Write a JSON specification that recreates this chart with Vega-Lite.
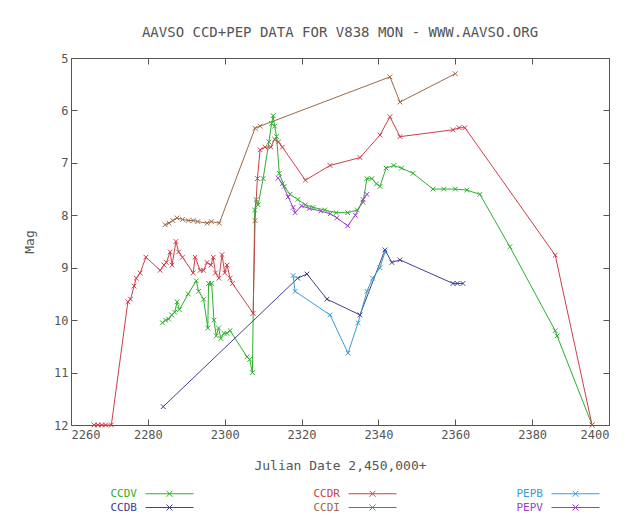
{
  "$schema": "https://vega.github.io/schema/vega-lite/v6.json",
  "width": 538,
  "height": 367,
  "autosize": {"type": "none"},
  "padding": {"left": 71, "top": 58, "right": 27, "bottom": 97},
  "background": "white",
  "title": {"text": "AAVSO CCD+PEP DATA FOR V838 MON - WWW.AAVSO.ORG", "font": "DejaVu Sans Mono", "fontSize": 14, "fontWeight": "normal", "color": "#555555", "offset": 12, "anchor": "middle"},
  "datasets": {
    "d": [
      {"s": "CCDV", "jd": 2283.8, "mag": 10.05}, {"s": "CCDV", "jd": 2284.6, "mag": 10.0}, {"s": "CCDV", "jd": 2285.4, "mag": 9.98}, {"s": "CCDV", "jd": 2286.2, "mag": 9.9}, {"s": "CCDV", "jd": 2287.0, "mag": 9.85}, {"s": "CCDV", "jd": 2287.6, "mag": 9.65}, {"s": "CCDV", "jd": 2288.2, "mag": 9.8}, {"s": "CCDV", "jd": 2290.5, "mag": 9.5}, {"s": "CCDV", "jd": 2292.6, "mag": 9.25}, {"s": "CCDV", "jd": 2293.2, "mag": 9.45}, {"s": "CCDV", "jd": 2294.5, "mag": 9.6}, {"s": "CCDV", "jd": 2295.6, "mag": 10.15}, {"s": "CCDV", "jd": 2295.8, "mag": 9.3}, {"s": "CCDV", "jd": 2296.6, "mag": 9.3}, {"s": "CCDV", "jd": 2297.2, "mag": 10.0}, {"s": "CCDV", "jd": 2297.8, "mag": 10.3}, {"s": "CCDV", "jd": 2298.4, "mag": 10.15}, {"s": "CCDV", "jd": 2299.0, "mag": 10.35}, {"s": "CCDV", "jd": 2299.8, "mag": 10.25}, {"s": "CCDV", "jd": 2300.6, "mag": 10.25}, {"s": "CCDV", "jd": 2301.4, "mag": 10.2}, {"s": "CCDV", "jd": 2305.8, "mag": 10.7}, {"s": "CCDV", "jd": 2306.5, "mag": 10.75}, {"s": "CCDV", "jd": 2307.2, "mag": 11.0}, {"s": "CCDV", "jd": 2307.8, "mag": 7.9}, {"s": "CCDV", "jd": 2308.2, "mag": 7.7}, {"s": "CCDV", "jd": 2308.7, "mag": 7.8}, {"s": "CCDV", "jd": 2310.0, "mag": 7.3}, {"s": "CCDV", "jd": 2311.5, "mag": 6.6}, {"s": "CCDV", "jd": 2312.2, "mag": 6.25}, {"s": "CCDV", "jd": 2312.6, "mag": 6.1}, {"s": "CCDV", "jd": 2313.0, "mag": 6.3}, {"s": "CCDV", "jd": 2313.5, "mag": 6.5}, {"s": "CCDV", "jd": 2314.2, "mag": 7.2}, {"s": "CCDV", "jd": 2315.5, "mag": 7.45}, {"s": "CCDV", "jd": 2317.0, "mag": 7.6}, {"s": "CCDV", "jd": 2319.0, "mag": 7.7}, {"s": "CCDV", "jd": 2321.0, "mag": 7.8}, {"s": "CCDV", "jd": 2323.0, "mag": 7.85}, {"s": "CCDV", "jd": 2326.0, "mag": 7.9}, {"s": "CCDV", "jd": 2329.0, "mag": 7.95}, {"s": "CCDV", "jd": 2332.0, "mag": 7.95}, {"s": "CCDV", "jd": 2334.5, "mag": 7.9}, {"s": "CCDV", "jd": 2336.0, "mag": 7.75}, {"s": "CCDV", "jd": 2337.0, "mag": 7.3}, {"s": "CCDV", "jd": 2338.3, "mag": 7.3}, {"s": "CCDV", "jd": 2339.5, "mag": 7.4}, {"s": "CCDV", "jd": 2340.4, "mag": 7.45}, {"s": "CCDV", "jd": 2342.0, "mag": 7.1}, {"s": "CCDV", "jd": 2344.0, "mag": 7.05}, {"s": "CCDV", "jd": 2346.0, "mag": 7.1}, {"s": "CCDV", "jd": 2349.0, "mag": 7.2}, {"s": "CCDV", "jd": 2354.2, "mag": 7.5}, {"s": "CCDV", "jd": 2357.0, "mag": 7.5}, {"s": "CCDV", "jd": 2360.0, "mag": 7.5}, {"s": "CCDV", "jd": 2363.0, "mag": 7.52}, {"s": "CCDV", "jd": 2366.4, "mag": 7.6}, {"s": "CCDV", "jd": 2374.2, "mag": 8.6}, {"s": "CCDV", "jd": 2386.0, "mag": 10.2}, {"s": "CCDV", "jd": 2386.5, "mag": 10.3}, {"s": "CCDV", "jd": 2395.6, "mag": 12.0},

      {"s": "CCDR", "jd": 2266.0, "mag": 12.0}, {"s": "CCDR", "jd": 2267.0, "mag": 12.0}, {"s": "CCDR", "jd": 2268.0, "mag": 12.0}, {"s": "CCDR", "jd": 2269.0, "mag": 12.0}, {"s": "CCDR", "jd": 2270.5, "mag": 12.0}, {"s": "CCDR", "jd": 2274.8, "mag": 9.65}, {"s": "CCDR", "jd": 2275.5, "mag": 9.6}, {"s": "CCDR", "jd": 2276.4, "mag": 9.35}, {"s": "CCDR", "jd": 2277.0, "mag": 9.2}, {"s": "CCDR", "jd": 2278.0, "mag": 9.1}, {"s": "CCDR", "jd": 2279.5, "mag": 8.8}, {"s": "CCDR", "jd": 2283.2, "mag": 9.05}, {"s": "CCDR", "jd": 2284.2, "mag": 8.95}, {"s": "CCDR", "jd": 2284.8, "mag": 8.9}, {"s": "CCDR", "jd": 2285.8, "mag": 8.7}, {"s": "CCDR", "jd": 2286.3, "mag": 8.95}, {"s": "CCDR", "jd": 2287.3, "mag": 8.5}, {"s": "CCDR", "jd": 2288.0, "mag": 8.7}, {"s": "CCDR", "jd": 2289.0, "mag": 8.8}, {"s": "CCDR", "jd": 2291.8, "mag": 9.1}, {"s": "CCDR", "jd": 2292.3, "mag": 8.8}, {"s": "CCDR", "jd": 2293.6, "mag": 9.05}, {"s": "CCDR", "jd": 2294.5, "mag": 9.05}, {"s": "CCDR", "jd": 2295.4, "mag": 8.9}, {"s": "CCDR", "jd": 2296.4, "mag": 8.95}, {"s": "CCDR", "jd": 2297.0, "mag": 8.8}, {"s": "CCDR", "jd": 2297.6, "mag": 9.1}, {"s": "CCDR", "jd": 2298.5, "mag": 9.2}, {"s": "CCDR", "jd": 2299.3, "mag": 8.75}, {"s": "CCDR", "jd": 2300.0, "mag": 9.1}, {"s": "CCDR", "jd": 2300.6, "mag": 8.95}, {"s": "CCDR", "jd": 2301.4, "mag": 9.2}, {"s": "CCDR", "jd": 2302.0, "mag": 9.3}, {"s": "CCDR", "jd": 2307.4, "mag": 9.87}, {"s": "CCDR", "jd": 2307.9, "mag": 8.1}, {"s": "CCDR", "jd": 2308.5, "mag": 7.3}, {"s": "CCDR", "jd": 2309.2, "mag": 6.75}, {"s": "CCDR", "jd": 2310.5, "mag": 6.7}, {"s": "CCDR", "jd": 2312.0, "mag": 6.7}, {"s": "CCDR", "jd": 2313.0, "mag": 6.55}, {"s": "CCDR", "jd": 2314.0, "mag": 6.6}, {"s": "CCDR", "jd": 2315.0, "mag": 6.7}, {"s": "CCDR", "jd": 2321.0, "mag": 7.33}, {"s": "CCDR", "jd": 2327.4, "mag": 7.05}, {"s": "CCDR", "jd": 2335.2, "mag": 6.9}, {"s": "CCDR", "jd": 2340.4, "mag": 6.47}, {"s": "CCDR", "jd": 2343.0, "mag": 6.12}, {"s": "CCDR", "jd": 2345.6, "mag": 6.5}, {"s": "CCDR", "jd": 2359.4, "mag": 6.37}, {"s": "CCDR", "jd": 2361.0, "mag": 6.33}, {"s": "CCDR", "jd": 2362.5, "mag": 6.33}, {"s": "CCDR", "jd": 2386.0, "mag": 8.76}, {"s": "CCDR", "jd": 2395.6, "mag": 12.0},

      {"s": "CCDI", "jd": 2284.5, "mag": 8.18}, {"s": "CCDI", "jd": 2285.5, "mag": 8.15}, {"s": "CCDI", "jd": 2286.5, "mag": 8.1}, {"s": "CCDI", "jd": 2287.6, "mag": 8.05}, {"s": "CCDI", "jd": 2289.0, "mag": 8.08}, {"s": "CCDI", "jd": 2290.5, "mag": 8.1}, {"s": "CCDI", "jd": 2291.8, "mag": 8.1}, {"s": "CCDI", "jd": 2293.0, "mag": 8.12}, {"s": "CCDI", "jd": 2295.4, "mag": 8.15}, {"s": "CCDI", "jd": 2296.5, "mag": 8.12}, {"s": "CCDI", "jd": 2298.6, "mag": 8.15}, {"s": "CCDI", "jd": 2307.9, "mag": 6.34}, {"s": "CCDI", "jd": 2309.2, "mag": 6.3}, {"s": "CCDI", "jd": 2343.0, "mag": 5.36}, {"s": "CCDI", "jd": 2345.6, "mag": 5.84}, {"s": "CCDI", "jd": 2360.0, "mag": 5.3},

      {"s": "CCDB", "jd": 2284.0, "mag": 11.65}, {"s": "CCDB", "jd": 2319.0, "mag": 9.2}, {"s": "CCDB", "jd": 2321.4, "mag": 9.12}, {"s": "CCDB", "jd": 2326.6, "mag": 9.6}, {"s": "CCDB", "jd": 2335.2, "mag": 9.9}, {"s": "CCDB", "jd": 2341.7, "mag": 8.66}, {"s": "CCDB", "jd": 2343.5, "mag": 8.9}, {"s": "CCDB", "jd": 2345.6, "mag": 8.85}, {"s": "CCDB", "jd": 2359.4, "mag": 9.3}, {"s": "CCDB", "jd": 2360.5, "mag": 9.3}, {"s": "CCDB", "jd": 2362.0, "mag": 9.3},

      {"s": "PEPB", "jd": 2317.8, "mag": 9.15}, {"s": "PEPB", "jd": 2318.3, "mag": 9.45}, {"s": "PEPB", "jd": 2327.4, "mag": 9.9}, {"s": "PEPB", "jd": 2332.1, "mag": 10.63}, {"s": "PEPB", "jd": 2334.7, "mag": 10.05}, {"s": "PEPB", "jd": 2337.0, "mag": 9.45}, {"s": "PEPB", "jd": 2338.5, "mag": 9.2}, {"s": "PEPB", "jd": 2340.4, "mag": 9.0}, {"s": "PEPB", "jd": 2341.7, "mag": 8.7},

      {"s": "PEPV", "jd": 2313.9, "mag": 7.29}, {"s": "PEPV", "jd": 2315.0, "mag": 7.4}, {"s": "PEPV", "jd": 2316.5, "mag": 7.65}, {"s": "PEPV", "jd": 2317.8, "mag": 7.85}, {"s": "PEPV", "jd": 2318.3, "mag": 7.95}, {"s": "PEPV", "jd": 2320.0, "mag": 7.82}, {"s": "PEPV", "jd": 2322.0, "mag": 7.87}, {"s": "PEPV", "jd": 2325.0, "mag": 7.92}, {"s": "PEPV", "jd": 2327.5, "mag": 7.97}, {"s": "PEPV", "jd": 2329.2, "mag": 8.05}, {"s": "PEPV", "jd": 2332.0, "mag": 8.2}, {"s": "PEPV", "jd": 2334.0, "mag": 8.0}, {"s": "PEPV", "jd": 2336.0, "mag": 7.7}, {"s": "PEPV", "jd": 2337.0, "mag": 7.6}
    ]
  },
  "data": {"name": "d"},
  "layer": [
    {
      "mark": {"type": "line", "strokeWidth": 1},
      "encoding": {
        "x": {"field": "jd", "type": "quantitative", "scale": {"domain": [2260, 2400], "nice": false, "zero": false}, "axis": {"orient": "bottom", "values": [2260, 2280, 2300, 2320, 2340, 2360, 2380, 2400], "format": "d", "title": "Julian Date 2,450,000+", "labelPadding": 10, "titlePadding": 19}},
        "y": {"field": "mag", "type": "quantitative", "scale": {"domain": [5, 12], "reverse": true, "nice": false, "zero": false}, "axis": {"orient": "left", "values": [5, 6, 7, 8, 9, 10, 11, 12], "title": "Mag", "labelPadding": 9, "titlePadding": 17}},
        "color": {"field": "s", "type": "nominal", "scale": {"domain": ["CCDV", "CCDR", "PEPB", "CCDB", "CCDI", "PEPV"], "range": ["#2fae2f", "#cc3f4a", "#3b9dd0", "#40408e", "#9a6a48", "#9a3fc8"]},
          "legend": {"orient": "none", "legendX": 93, "legendY": 430, "direction": "horizontal", "columns": 3, "columnPadding": 117, "rowPadding": 2, "title": null,
            "symbolType": "M-8,0L8,0M-1,-1L1,1M-1,1L1,-1", "symbolSize": 36, "symbolStrokeWidth": 1, "symbolFillColor": "transparent",
            "labelAlign": "right", "labelOffset": -38, "labelFont": "DejaVu Sans Mono", "labelFontSize": 11,
            "encode": {"labels": {"update": {"fill": {"scale": "color", "field": "value"}}}}}}
      }
    },
    {
      "mark": {"type": "point", "shape": "M-1,-1L1,1M-1,1L1,-1", "size": 22, "filled": false, "strokeWidth": 1, "opacity": 1},
      "encoding": {
        "x": {"field": "jd", "type": "quantitative", "scale": {"domain": [2260, 2400], "nice": false, "zero": false}, "axis": {"orient": "top", "values": [2260, 2280, 2300, 2320, 2340, 2360, 2380, 2400], "labels": false, "title": null}},
        "y": {"field": "mag", "type": "quantitative", "scale": {"domain": [5, 12], "reverse": true, "nice": false, "zero": false}, "axis": {"orient": "right", "values": [5, 6, 7, 8, 9, 10, 11, 12], "labels": false, "title": null}},
        "color": {"field": "s", "type": "nominal"}
      }
    }
  ],
  "resolve": {"axis": {"x": "independent", "y": "independent"}},
  "config": {
    "view": {"stroke": "#555555", "strokeWidth": 1},
    "axis": {"labelFont": "DejaVu Sans Mono", "labelFontSize": 12, "labelColor": "#555555", "titleFont": "DejaVu Sans Mono", "titleFontSize": 13, "titleFontWeight": "normal", "titleColor": "#555555", "grid": false, "domain": false, "tickColor": "#555555", "tickSize": -6}
  }
}
